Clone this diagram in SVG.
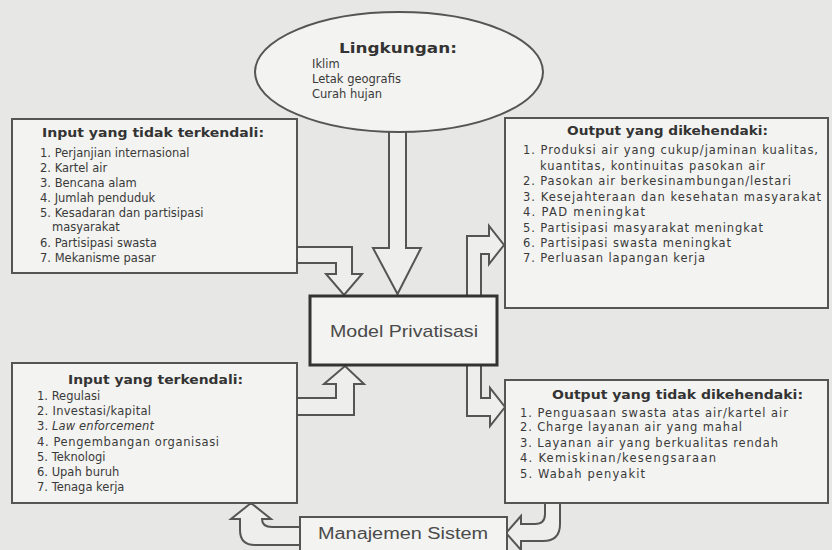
<svg xmlns="http://www.w3.org/2000/svg" width="832" height="550" viewBox="0 0 832 550">
<style>
.box{fill:#f3f3f1;stroke:#555;stroke-width:2}
.arr{fill:#eeeeec;stroke:#555;stroke-width:2;stroke-linejoin:miter}
.t{font-family:"DejaVu Sans",Verdana,sans-serif;font-size:11.5px;fill:#3a3a3a}
.h{font-family:"DejaVu Sans",Verdana,sans-serif;font-size:12px;font-weight:bold;fill:#333}
.big{font-family:"Liberation Sans",Arial,sans-serif;fill:#4a4a4a}
</style>
<rect x="0" y="0" width="832" height="550" fill="#e7e7e5"/>
<g id="connectors">
<path class="arr" d="M389,120 L389,248 L373,248 L397.5,294 L421,248 L406,248 L406,120 Z"/>
<path class="arr" d="M296,247 L352,247 L352,274 L362,274 L344,295 L326,274 L336,274 L336,263 L296,263 Z"/>
<path class="arr" d="M296,398 L336,398 L336,384 L324,384 L345,366 L364,384 L354,384 L354,415 L296,415 Z"/>
<path class="arr" d="M467,297 L467,236 L489,236 L489,226 L504,245 L489,264 L489,254 L481,254 L481,297 Z"/>
<path class="arr" d="M467,364 L467,416 L490,416 L490,426 L505,407 L490,388 L490,398 L481,398 L481,364 Z"/>
<path class="arr" d="M545,502 L545,514 Q545,524 535,524 L521,524 L521,516 L506,533 L521,550 L521,541 L543,541 Q560,541 560,524 L560,502 Z"/>
<path class="arr" d="M301,527 L272,527 Q262,527 262,519 L271,519 L251,503 L231,519 L240,519 L240,530 Q240,545 255,545 L301,545 Z"/>
</g>
<g id="lingkungan">
<ellipse cx="399" cy="72" rx="144" ry="60" fill="#f3f3f1" stroke="#555" stroke-width="2"/>
<text class="h" x="398" y="53" text-anchor="middle" textLength="118" lengthAdjust="spacingAndGlyphs" style="font-size:14.5px">Lingkungan:</text>
<text class="t" x="312" y="68">Iklim</text>
<text class="t" x="312" y="83">Letak geografis</text>
<text class="t" x="312" y="98">Curah hujan</text>
</g>
<g id="input-tidak-terkendali">
<rect class="box" x="12" y="119" width="285" height="154"/>
<text class="h" x="42" y="137" textLength="222" lengthAdjust="spacingAndGlyphs">Input yang tidak terkendali:</text>
<text class="t" x="40" y="157">1. Perjanjian internasional</text>
<text class="t" x="40" y="172">2. Kartel air</text>
<text class="t" x="40" y="187">3. Bencana alam</text>
<text class="t" x="40" y="202">4. Jumlah penduduk</text>
<text class="t" x="40" y="217">5. Kesadaran dan partisipasi</text>
<text class="t" x="52" y="231">masyarakat</text>
<text class="t" x="40" y="247">6. Partisipasi swasta</text>
<text class="t" x="40" y="262">7. Mekanisme pasar</text>
</g>
<g id="output-dikehendaki">
<rect class="box" x="505" y="118" width="323" height="190"/>
<text class="h" x="567" y="135" textLength="201" lengthAdjust="spacingAndGlyphs">Output yang dikehendaki:</text>
<text class="t" x="523" y="154" textLength="295">1. Produksi air yang cukup/jaminan kualitas,</text>
<text class="t" x="540" y="170" textLength="225">kuantitas, kontinuitas pasokan air</text>
<text class="t" x="523" y="185" textLength="268">2. Pasokan air berkesinambungan/lestari</text>
<text class="t" x="523" y="201" textLength="298">3. Kesejahteraan dan kesehatan masyarakat</text>
<text class="t" x="523" y="216" textLength="122">4. PAD meningkat</text>
<text class="t" x="523" y="232" textLength="240">5. Partisipasi masyarakat meningkat</text>
<text class="t" x="523" y="247" textLength="208">6. Partisipasi swasta meningkat</text>
<text class="t" x="523" y="262" textLength="182">7. Perluasan lapangan kerja</text>
</g>
<g id="model-privatisasi">
<rect x="310" y="296" width="187" height="69" fill="#f3f3f1" stroke="#333" stroke-width="3"/>
<text class="big" x="404" y="337" text-anchor="middle" font-size="17" textLength="148" lengthAdjust="spacingAndGlyphs">Model Privatisasi</text>
</g>
<g id="input-terkendali">
<rect class="box" x="12" y="363" width="285" height="140"/>
<text class="h" x="68" y="384" textLength="175" lengthAdjust="spacingAndGlyphs">Input yang terkendali:</text>
<text class="t" x="37" y="400">1. Regulasi</text>
<text class="t" x="37" y="415" textLength="114">2. Investasi/kapital</text>
<text class="t" x="37" y="430" textLength="117">3. <tspan font-style="italic">Law enforcement</tspan></text>
<text class="t" x="37" y="446" textLength="182">4. Pengembangan organisasi</text>
<text class="t" x="37" y="461">5. Teknologi</text>
<text class="t" x="37" y="476">6. Upah buruh</text>
<text class="t" x="37" y="491">7. Tenaga kerja</text>
</g>
<g id="output-tidak-dikehendaki">
<rect class="box" x="505" y="380" width="323" height="123"/>
<text class="h" x="552" y="399" textLength="251" lengthAdjust="spacingAndGlyphs">Output yang tidak dikehendaki:</text>
<text class="t" x="520" y="417" textLength="268">1. Penguasaan swasta atas air/kartel air</text>
<text class="t" x="520" y="431" textLength="222">2. Charge layanan air yang mahal</text>
<text class="t" x="520" y="447" textLength="258">3. Layanan air yang berkualitas rendah</text>
<text class="t" x="520" y="462" textLength="196">4. Kemiskinan/kesengsaraan</text>
<text class="t" x="520" y="478" textLength="125">5. Wabah penyakit</text>
</g>
<g id="manajemen-sistem">
<rect class="box" x="300" y="517" width="207" height="45"/>
<text class="big" x="403" y="539" text-anchor="middle" font-size="16" textLength="170" lengthAdjust="spacingAndGlyphs">Manajemen Sistem</text>
</g>
</svg>
